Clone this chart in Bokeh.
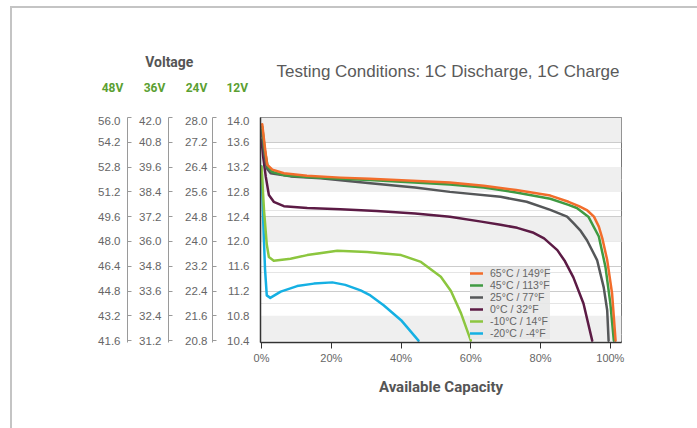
from bokeh.plotting import figure
from bokeh.layouts import column
from bokeh.models import (Range1d, LinearAxis, FixedTicker, Grid, Legend,
                          LegendItem, BoxAnnotation)
from bokeh.core.properties import value
from bokeh.embed import file_html
from bokeh.resources import INLINE

# ---------------- data ----------------
capacity_ticks = [0, 20, 40, 60, 80, 100]
capacity_labels = ["0%", "20%", "40%", "60%", "80%", "100%"]

v12_ticks = [14.0, 13.6, 13.2, 12.8, 12.4, 12.0, 11.6, 11.2, 10.8, 10.4]
v12_labels = ["14.0", "13.6", "13.2", "12.8", "12.4", "12.0", "11.6", "11.2", "10.8", "10.4"]
v24_labels = ["28.0", "27.2", "26.4", "25.6", "24.8", "24.0", "23.2", "22.4", "21.6", "20.8"]
v36_labels = ["42.0", "40.8", "39.6", "38.4", "37.2", "36.0", "34.8", "33.6", "32.4", "31.2"]
v48_labels = ["56.0", "54.2", "52.8", "51.2", "49.6", "48.0", "46.4", "44.8", "43.2", "41.6"]
pack_names = ["12V", "24V", "36V", "48V"]

series_names = ["65°C / 149°F", "45°C / 113°F", "25°C / 77°F",
                "0°C / 32°F", "-10°C / 14°F", "-20°C / -4°F"]
series_colors = ["#f26d2b", "#3f9a42", "#555759", "#5c1b45", "#8cc63f", "#15b0e3"]

cap_65 = [0.2, 1.0, 1.6, 3.1, 6.4, 13, 22.6, 31, 54, 63.7, 73, 82.8, 88, 91, 93.4,
          95.3, 96.7, 97.7, 99.1, 100.5, 101.5]
volt_65 = [13.89, 13.50, 13.24, 13.16, 13.10, 13.06, 13.03, 13.01, 12.95, 12.90, 12.83,
           12.74, 12.64, 12.57, 12.50, 12.40, 12.24, 12.05, 11.70, 11.16, 10.40]

cap_45 = [0.2, 1.0, 1.8, 3.1, 6.4, 13, 22.6, 31, 54, 63.7, 68.5, 73, 82.8, 88, 90.4,
          93.7, 96.7, 98.6, 100.0, 101.0]
volt_45 = [13.85, 13.45, 13.20, 13.12, 13.07, 13.04, 13.01, 12.99, 12.92, 12.87, 12.83,
           12.79, 12.69, 12.59, 12.54, 12.40, 12.08, 11.59, 11.00, 10.40]

cap_25 = [0.0, 0.8, 1.5, 2.6, 8.3, 16.9, 31.2, 44, 54, 68.5, 76, 82.8, 87.6, 89.5,
          91.5, 93.3, 96.2, 98.1, 99.1, 99.5]
volt_25 = [13.80, 13.40, 13.18, 13.10, 13.05, 13.02, 12.94, 12.87, 12.80, 12.72, 12.64,
           12.51, 12.40, 12.29, 12.17, 12.02, 11.70, 11.26, 10.89, 10.40]

cap_0 = [0.0, 0.5, 1.2, 2.1, 3.5, 6.4, 13.1, 22.6, 33, 44, 54, 63, 68.5, 73.3, 78, 81,
         84.8, 87, 89.4, 92.3, 94.8]
volt_0 = [13.64, 13.35, 13.05, 12.75, 12.64, 12.57, 12.54, 12.52, 12.49, 12.45, 12.40,
          12.32, 12.27, 12.22, 12.14, 12.05, 11.86, 11.68, 11.42, 11.00, 10.40]

cap_m10 = [0.0, 0.7, 1.5, 2.1, 3.5, 8.3, 13.1, 21.7, 30.3, 40, 45.7, 51.4, 54.3, 57.2, 60]
volt_m10 = [13.21, 12.51, 11.95, 11.75, 11.69, 11.72, 11.78, 11.85, 11.83, 11.78, 11.67,
            11.43, 11.20, 10.84, 10.40]

cap_m20 = [0.0, 0.5, 1.0, 1.5, 2.5, 5.5, 10.2, 15, 20.3, 24, 28.4, 31.2, 35, 40, 45]
volt_m20 = [13.21, 12.30, 11.55, 11.13, 11.09, 11.19, 11.28, 11.32, 11.34, 11.30, 11.21,
            11.13, 10.97, 10.73, 10.40]

series_caps = [cap_65, cap_45, cap_25, cap_0, cap_m10, cap_m20]
series_volts = [volt_65, volt_45, volt_25, volt_0, volt_m10, volt_m20]

title_text = "Testing Conditions: 1C Discharge, 1C Charge"
voltage_text = "Voltage"

GRAY_TXT = "#666666"
W = 685
TOP_H = 108

# ---------------- header strip (texts above the chart) ----------------
top = figure(width=W, height=TOP_H, output_backend="svg", toolbar_location=None, tools="",
             x_range=Range1d(0, W), y_range=Range1d(TOP_H, 0),
             x_axis_location=None, y_axis_location=None, min_border=0)
top.frame_align = False
top.outline_line_color = None
top.grid.visible = False
top.background_fill_color = "white"
top.border_fill_color = "white"

top.text(x=[435.5], y=[63], text=[title_text], text_align="center",
         text_baseline="alphabetic", text_font=value("Liberation Sans"),
         text_font_size="17px", text_color="#5a5a5a")
top.text(x=[156.8], y=[53.5], text=[voltage_text], text_align="center",
         text_baseline="alphabetic", text_font=value("Roboto"),
         text_font_style=value("bold"), text_font_size="14px", text_color="#555555")
top.text(x=[224.7, 184, 142, 100], y=[79] * 4, text=pack_names, text_align="center",
         text_baseline="alphabetic", text_font=value("Roboto"),
         text_font_style=value("bold"), text_font_size="12px", text_color="#5b9f32")

# ---------------- main chart ----------------
p = figure(width=W, height=420 - TOP_H, output_backend="svg", toolbar_location=None,
           tools="", x_range=Range1d(-0.3, 103.2), y_range=Range1d(10.37, 14.0),
           y_axis_location=None,
           min_border_left=248, min_border_right=76, min_border_top=1,
           min_border_bottom=86)
p.frame_align = False
p.background_fill_color = "white"
p.border_fill_color = "white"
p.outline_line_color = "#777777"
p.outline_line_width = 1
p.xgrid.visible = False

# alternating background bands aligned with the 12V ticks
for i in (0, 2, 4, 8):
    p.add_layout(BoxAnnotation(bottom=v12_ticks[i + 1], top=v12_ticks[i],
                               fill_color="#efefef", fill_alpha=1.0,
                               line_color=None, level="underlay"))
line_grid = Grid(dimension=1, ticker=FixedTicker(ticks=[v12_ticks[1], v12_ticks[4],
                                                          v12_ticks[6], v12_ticks[7]]),
                 grid_line_color="#cccccc", grid_line_width=1)
p.add_layout(line_grid)

# x axis
xa = p.xaxis[0]
xa.ticker = FixedTicker(ticks=capacity_ticks)
xa.major_label_overrides = {t: l for t, l in zip(capacity_ticks, capacity_labels)}
xa.minor_tick_line_color = None
xa.major_tick_out = 6
xa.major_tick_in = 0
xa.major_tick_line_color = "#333333"
xa.axis_line_color = "#333333"
xa.axis_line_width = 1.5
xa.major_label_text_font = "Liberation Sans"
xa.major_label_text_font_size = "11px"
xa.major_label_text_color = GRAY_TXT
xa.major_label_standoff = 3
xa.axis_label = "Available Capacity"
xa.axis_label_text_font = "Roboto"
xa.axis_label_text_font_style = "bold"
xa.axis_label_text_font_size = "15px"
xa.axis_label_text_color = "#555555"
xa.axis_label_standoff = 11

# four voltage axes, innermost first
label_sets = [v12_labels, v24_labels, v36_labels, v48_labels]
standoffs = [11, 5, 7, 7]
gaps = [8, 10, 5, None]
for k, labels in enumerate(label_sets):
    ax = LinearAxis(ticker=FixedTicker(ticks=v12_ticks),
                    major_label_overrides={t: l for t, l in zip(v12_ticks, labels)})
    ax.minor_tick_line_color = None
    ax.major_tick_out = 0
    ax.major_label_standoff = standoffs[k]
    ax.major_label_text_font = "Liberation Sans"
    ax.major_label_text_font_size = "11.5px"
    ax.major_label_text_color = GRAY_TXT
    if k == 0:
        ax.axis_line_color = "#333333"
        ax.axis_line_width = 1.5
        ax.major_tick_line_color = None
    else:
        ax.axis_line_color = "#9a9a9a"
        ax.major_tick_line_color = "#9a9a9a"
        ax.major_tick_in = 4
    if gaps[k] is not None:
        ax.axis_label = " "
        ax.axis_label_text_font_size = "1px"
        ax.axis_label_standoff = gaps[k]
    p.add_layout(ax, "left")

# curves (drawn from coldest to hottest so the hot curves are on top)
renderers = {}
for name, color, xs, ys in reversed(list(zip(series_names, series_colors,
                                               series_caps, series_volts))):
    renderers[name] = p.line(xs, ys, line_color=color, line_width=2.5,
                             line_join="round", line_cap="round")

legend = Legend(items=[LegendItem(label=n, renderers=[renderers[n]]) for n in series_names],
                location=(210, 3), margin=0, padding=4, spacing=0,
                label_height=12, glyph_height=12, glyph_width=13, label_standoff=7,
                label_text_font="Liberation Sans", label_text_font_size="10.5px",
                label_text_color=GRAY_TXT,
                background_fill_color="#e6e6e6", background_fill_alpha=0.85,
                border_line_color=None)
p.add_layout(legend)

layout = column(top, p, spacing=0, margin=(6, 0, 0, 10),
                styles={"border-top": "2px solid #c4c4c4",
                        "border-left": "2px solid #c4c4c4"})

open("out.html", "w").write(file_html(layout, INLINE))
